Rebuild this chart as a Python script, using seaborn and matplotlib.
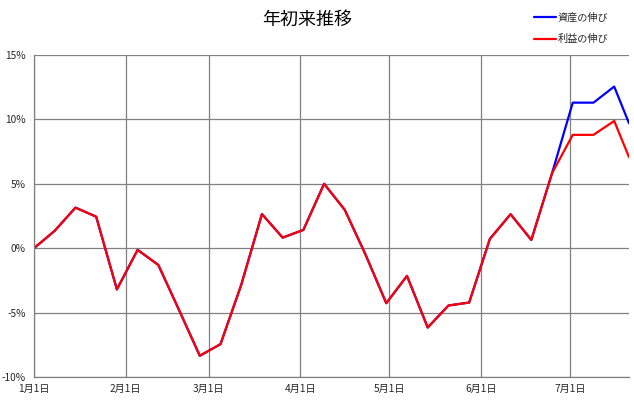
import matplotlib
matplotlib.use("Agg")
import matplotlib.pyplot as plt
import matplotlib.dates as mdates
import matplotlib.ticker as mticker
from matplotlib.lines import Line2D
import seaborn as sns
import pandas as pd

# ---- data ----
dates = ["2015-01-01", "2015-01-08", "2015-01-15", "2015-01-22", "2015-01-29",
         "2015-02-05", "2015-02-12", "2015-02-19", "2015-02-26", "2015-03-05",
         "2015-03-12", "2015-03-19", "2015-03-26", "2015-04-02", "2015-04-09",
         "2015-04-16", "2015-04-23", "2015-04-30", "2015-05-07", "2015-05-14",
         "2015-05-21", "2015-05-28", "2015-06-04", "2015-06-11", "2015-06-18",
         "2015-06-25", "2015-07-02", "2015-07-09", "2015-07-16", "2015-07-21"]
asset_growth = [0.0, 1.35, 3.15, 2.45, -3.2, -0.13, -1.3, -4.8, -8.35, -7.45,
                -2.85, 2.65, 0.82, 1.42, 5.0, 2.97, -0.5, -4.27, -2.15, -6.16,
                -4.45, -4.22, 0.72, 2.64, 0.64, 5.82, 11.3, 11.3, 12.55, 9.7]
profit_growth = [0.0, 1.35, 3.15, 2.45, -3.2, -0.13, -1.3, -4.8, -8.35, -7.45,
                 -2.85, 2.65, 0.82, 1.42, 5.0, 2.97, -0.5, -4.27, -2.15, -6.16,
                 -4.45, -4.22, 0.72, 2.64, 0.64, 5.82, 8.8, 8.8, 9.88, 7.07]
series_names = ["資産の伸び", "利益の伸び"]
series_colors = ["#0000FF", "#FF0000"]
title_text = "年初来推移"
y_ticks = [-10, -5, 0, 5, 10, 15]

# ---- figure ----
sns.set_style("white")
plt.rcParams['font.family'] = ['Noto Sans CJK JP', 'DejaVu Sans']

dt = pd.to_datetime(dates)
df = pd.DataFrame({
    "date": list(dt) * 2,
    "value": asset_growth + profit_growth,
    "series": [series_names[0]] * len(dates) + [series_names[1]] * len(dates),
})

fig = plt.figure(figsize=(6.34, 4.09), dpi=100)
ax = fig.add_axes([34/634, 1 - 377/409, (629-34)/634, (377-55)/409])

sns.lineplot(data=df, x="date", y="value", hue="series",
             palette=dict(zip(series_names, series_colors)),
             linewidth=1.6, ax=ax, legend=False)

ax.set_xlim(dt[0], dt[-1])
ax.set_ylim(-10, 15)
ax.set_yticks(y_ticks)
ax.yaxis.set_major_formatter(mticker.FuncFormatter(lambda v, p: f"{int(v)}%"))
ax.xaxis.set_major_locator(mdates.MonthLocator())
ax.xaxis.set_major_formatter(mticker.FuncFormatter(
    lambda v, p: f"{mdates.num2date(v).month}月1日"))

grid_col = "#808080"
ax.grid(True, color=grid_col, linewidth=0.9)
ax.set_axisbelow(True)
for s in ["top", "right"]:
    ax.spines[s].set_visible(False)
for s in ["left", "bottom"]:
    ax.spines[s].set_color(grid_col)
    ax.spines[s].set_linewidth(0.9)
ax.tick_params(axis="y", length=4, color=grid_col, width=0.9, labelsize=7.3, pad=2)
ax.tick_params(axis="x", length=0, labelsize=7.3, pad=5)
ax.set_xlabel("")
ax.set_ylabel("")

fig.text(307/634, 1 - 20/409, title_text, ha="center", va="center",
         fontsize=13, fontweight="normal", color="black")

handles = [Line2D([], [], color=c, linewidth=1.6) for c in series_colors]
fig.legend(handles, series_names, loc="center left",
           bbox_to_anchor=(534/634, 1 - 28.5/409), frameon=False,
           fontsize=7.3, handlelength=2.2, handletextpad=0.15,
           labelspacing=1.1, borderpad=0, borderaxespad=0)

fig.savefig("out.png", dpi=100)
